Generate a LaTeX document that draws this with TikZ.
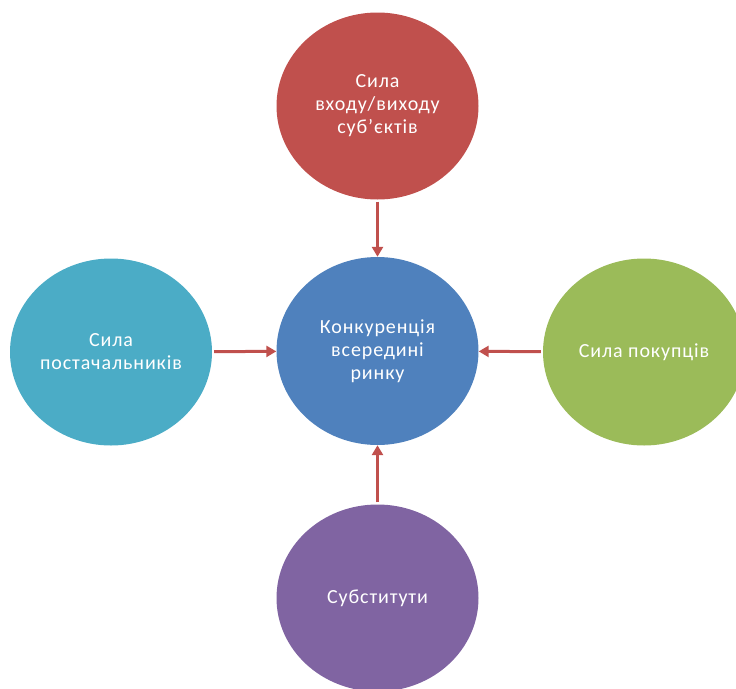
\documentclass[tikz,border=0pt]{standalone}
\usepackage{fontspec}
\setmainfont{Carlito}[LetterSpace=4.5]
\usetikzlibrary{shapes.geometric,arrows.meta}
\definecolor{cred}{HTML}{C0504D}
\definecolor{cblue}{HTML}{4F81BD}
\definecolor{cteal}{HTML}{4BACC6}
\definecolor{cgreen}{HTML}{9BBB59}
\definecolor{cpurple}{HTML}{8064A2}
\definecolor{arrowred}{HTML}{C0504D}
\begin{document}
\begin{tikzpicture}[x=1pt,y=-1pt,
  bubble/.style={ellipse, minimum width=202pt, minimum height=187pt, inner sep=0pt,
    text=white, align=center, font=\fontsize{20}{23}\selectfont},
  link/.style={draw=arrowred, line width=3pt, -{Triangle[length=10pt,width=11pt]},
    shorten <=2pt, shorten >=0pt}]
\useasboundingbox (0,0) rectangle (736,688);
\clip (0,0) rectangle (736,688);
\node[bubble, fill=cred] (top) at (377.5,106) {Сила\\входу/виходу\\суб’єктів};
\node[bubble, fill=cblue, minimum height=188pt] (mid) at (377.5,351) {Конкуренція\\всередині\\ринку};
\node[bubble, fill=cteal] (left) at (111,352) {Сила\\постачальників};
\node[bubble, fill=cgreen] (right) at (644,352) {Сила покупців};
\node[bubble, fill=cpurple] (bottom) at (377.5,598) {Субститути};
\draw[link] (top) -- (mid);
\draw[link] (left) -- (mid);
\draw[link] (right) -- (mid);
\draw[link] (bottom) -- (mid);
\end{tikzpicture}
\end{document}
